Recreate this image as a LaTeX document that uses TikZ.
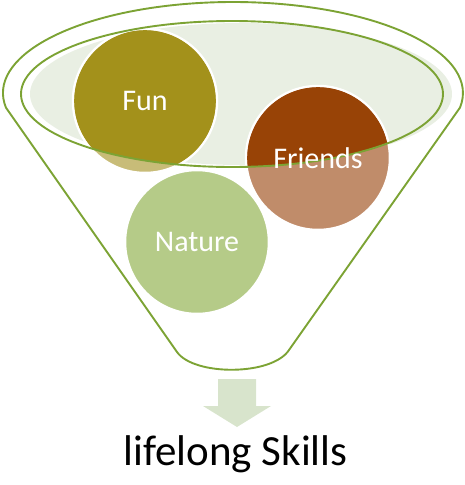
\documentclass[tikz,border=0pt]{standalone}
\usepackage{fontspec}
\setmainfont{Carlito}
\definecolor{rim}{RGB}{124,163,52}
\definecolor{bowl}{RGB}{233,239,227}
\definecolor{fundark}{RGB}{163,145,27}
\definecolor{funlight}{RGB}{200,188,120}
\definecolor{frdark}{RGB}{152,67,6}
\definecolor{frlight}{RGB}{192,140,106}
\definecolor{natlight}{RGB}{181,203,136}
\definecolor{arrowc}{RGB}{216,228,204}
\tikzset{
  ball/.style={circle, minimum size=144pt, inner sep=0pt, draw=white, line width=2.5pt},
  balltext/.style={text=white, font=\fontsize{30}{35}\selectfont, inner sep=0pt},
  rimline/.style={draw=rim, line width=1.9pt, line join=round}
}
\begin{document}
\begin{tikzpicture}[x=1pt, y=-1pt]
\useasboundingbox (0,0) rectangle (465,485);
% funnel outline
\draw[rimline] (6,107.7) arc[start angle=170.7, end angle=369.3, x radius=230, y radius=91]
  -- (289,350) .. controls (272,376) and (194,376) .. (177,352) -- cycle;
% inner bowl fill
\fill[bowl] (241,94) ellipse [x radius=211, y radius=71];
% circles (light parts)
\node[ball, fill=funlight] (funball) at (145,101) {};
\node[ball, fill=natlight] (natball) at (197,242) {};
\node[ball, fill=frlight] (frball) at (318,158) {};
% dark parts inside the bowl
\begin{scope}
  \clip (232,94) ellipse [x radius=211, y radius=73];
  \fill[fundark] (funball.center) circle [radius=70.8];
  \fill[frdark] (frball.center) circle [radius=70.8];
\end{scope}
% inner rim line
\draw[rimline] (232,94) ellipse [x radius=211, y radius=73];
% labels
\node[balltext] (fun) at (funball.center) {Fun};
\node[balltext] (friends) at (frball.center) {Friends};
\node[balltext] (nature) at (natball.center) {Nature};
% arrow
\fill[arrowc] (218,379) -- (256,379) -- (256,406) -- (271,406) -- (237,427) -- (203,406) -- (218,406) -- cycle;
% output text
\node[anchor=base, font=\fontsize{43}{50}\selectfont, inner sep=0pt] (skills) at (235.5,465) {lifelong Skills};
\end{tikzpicture}
\end{document}
